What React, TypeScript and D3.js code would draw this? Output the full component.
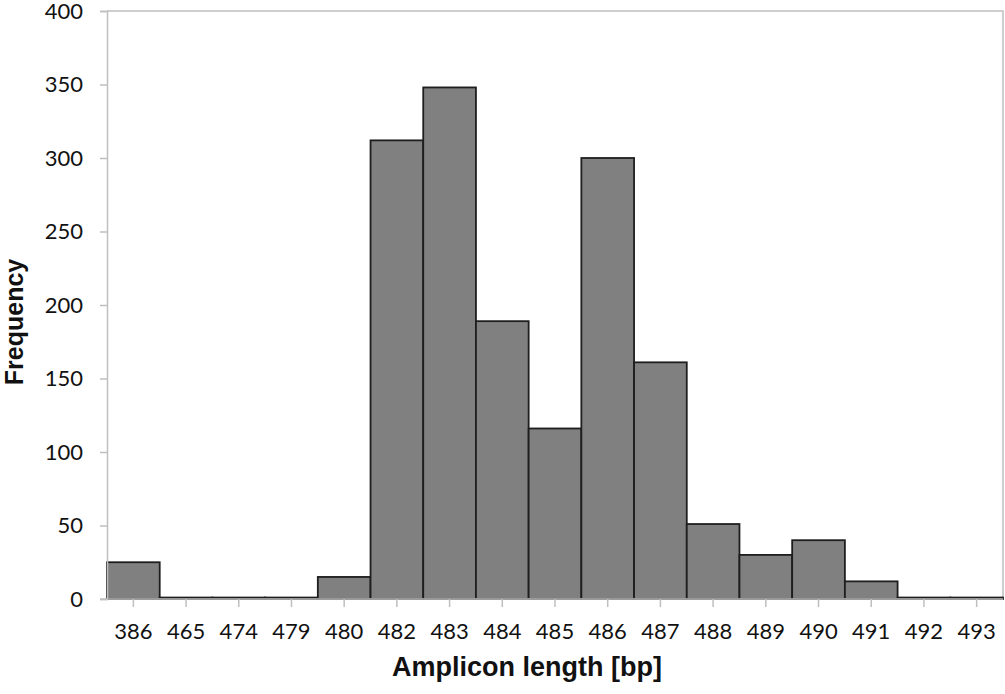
import * as d3 from 'd3';
import React, { useRef, useEffect } from 'react';

const lengths = ['386', '465', '474', '479', '480', '482', '483', '484', '485', '486', '487', '488', '489', '490', '491', '492', '493'];
const frequency = [25, 1, 1, 1, 15, 312, 348, 189, 116, 300, 161, 51, 30, 40, 12, 1, 1];
const yTicks = [0, 50, 100, 150, 200, 250, 300, 350, 400];

function App() {
    const ref = useRef<SVGSVGElement>(null);

    useEffect(() => {
        const svg = d3.select(ref.current);
        svg.selectAll('*').remove();

        const margin = { top: 11, right: 2, bottom: 95, left: 107 };
        const svgWidth = 1005, svgHeight = 694;
        const width = svgWidth - margin.left - margin.right;
        const height = svgHeight - margin.top - margin.bottom;

        const x = d3.scaleBand().domain(lengths).range([0, width]).padding(0);
        const y = d3.scaleLinear().domain([0, 400]).range([height, 0]);

        const g = svg.append('g').attr('transform', `translate(${margin.left},${margin.top})`);
        const axisColor = '#bfbfbf';
        const tickFont = 'Lato, "Open Sans", sans-serif';

        // plot frame (top and right)
        g.append('path')
            .attr('d', `M0,0H${width}V${height}`)
            .attr('fill', 'none')
            .attr('stroke', axisColor)
            .attr('stroke-width', 1.5);

        // bars
        g.selectAll('.bar')
            .data(lengths)
            .enter()
            .append('rect')
            .attr('class', 'bar')
            .attr('x', d => x(d)!)
            .attr('y', (d, i) => y(frequency[i]))
            .attr('width', x.bandwidth())
            .attr('height', (d, i) => y(0) - y(frequency[i]))
            .attr('fill', '#808080')
            .attr('stroke', '#1e1e1e')
            .attr('stroke-width', 1.8);

        // y axis
        const yAxis = g.append('g')
            .call(d3.axisLeft(y).tickValues(yTicks).tickSize(7).tickPadding(17));
        yAxis.select('.domain').attr('stroke', axisColor).attr('stroke-width', 1.5);
        yAxis.selectAll('line').attr('stroke', axisColor).attr('stroke-width', 1.5);
        yAxis.selectAll('text')
            .attr('font-family', tickFont)
            .attr('font-size', 22)
            .attr('fill', '#111');

        // x axis
        const xAxis = g.append('g')
            .attr('transform', `translate(0,${height})`)
            .call(d3.axisBottom(x).tickSize(8).tickSizeOuter(0).tickPadding(16));
        xAxis.select('.domain').remove();
        g.append('line')
            .attr('x1', -7).attr('x2', width)
            .attr('y1', height).attr('y2', height)
            .attr('stroke', axisColor).attr('stroke-width', 1.5);
        xAxis.selectAll('line').attr('stroke', axisColor).attr('stroke-width', 1.5);
        xAxis.selectAll('text')
            .attr('font-family', tickFont)
            .attr('font-size', 22)
            .attr('fill', '#111');

        // axis titles
        svg.append('text')
            .attr('x', 527)
            .attr('y', 676)
            .attr('text-anchor', 'middle')
            .attr('font-family', '"Liberation Sans", Arial, sans-serif')
            .attr('font-weight', 'bold')
            .attr('font-size', 27)
            .attr('fill', '#111')
            .text('Amplicon length [bp]');

        svg.append('text')
            .attr('transform', 'translate(23,322) rotate(-90)')
            .attr('text-anchor', 'middle')
            .attr('font-family', '"Liberation Sans", Arial, sans-serif')
            .attr('font-weight', 'bold')
            .attr('font-size', 25)
            .attr('fill', '#111')
            .text('Frequency');
    }, []);

    return (
        <svg ref={ref} width={1005} height={694} style={{ position: 'absolute', left: 0, top: 0, background: '#fff' }}></svg>
    );
}

export default App;
